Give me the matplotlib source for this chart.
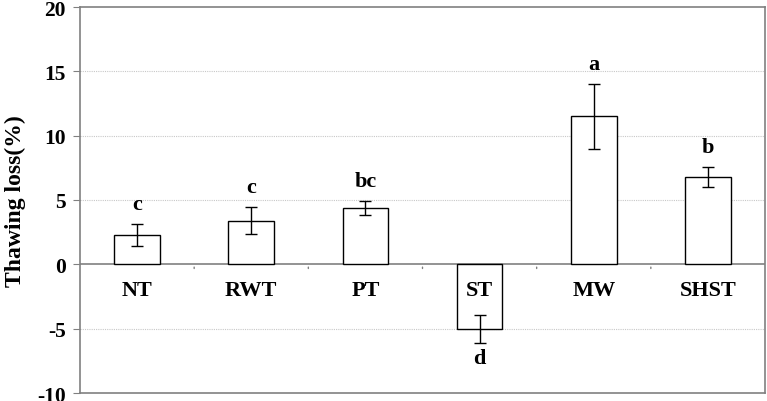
import matplotlib
matplotlib.use("Agg")
import matplotlib.pyplot as plt

categories = ["NT", "RWT", "PT", "ST", "MW", "SHST"]
values = [2.3, 3.4, 4.4, -5.0, 11.5, 6.8]
errors = [0.85, 1.05, 0.55, 1.1, 2.5, 0.8]
letters = ["c", "c", "bc", "d", "a", "b"]
yticks = [-10, -5, 0, 5, 10, 15, 20]

plt.rcParams['font.family'] = ['Liberation Serif', 'DejaVu Serif']
plt.rcParams['font.weight'] = 'bold'

fig = plt.figure(figsize=(7.67, 4.02), dpi=100)
ax = fig.add_axes([80/767, 8/402, 685/767, 386/402])

x = list(range(len(categories)))
ax.bar(x, values, width=0.4, color='white', edgecolor='black', linewidth=1.0, zorder=3)
ax.errorbar(x, values, yerr=errors, fmt='none', ecolor='black', elinewidth=1.0,
            capsize=4, capthick=1.0, zorder=4)

ax.set_xlim(-0.5, len(categories) - 0.5)
ax.set_ylim(-10, 20)
ax.set_yticks(yticks)
ax.set_yticklabels([str(t) for t in yticks], fontsize=15.5, fontweight='bold')
ax.set_xticks([])

for t in [15, 10, 5, -5]:
    ax.axhline(t, color='#c8c8c8', linestyle=(0, (1, 1)), linewidth=0.8, zorder=1)
ax.axhline(0, color='#808080', linewidth=1.2, zorder=2)

for b in [0.5, 1.5, 2.5, 3.5, 4.5]:
    ax.annotate('', xy=(b, 0), xytext=(0, -5), textcoords='offset points',
                arrowprops=dict(arrowstyle='-', color='#808080', lw=1.0))

for i, (cat, v, e, l) in enumerate(zip(categories, values, errors, letters)):
    ax.annotate(cat, xy=(i, 0), xytext=(0, -11), textcoords='offset points',
                ha='center', va='top', fontsize=16, fontweight='bold', zorder=5)
    if v >= 0:
        ax.annotate(l, xy=(i, v + e), xytext=(0, 7), textcoords='offset points',
                    ha='center', va='bottom', fontsize=16, fontweight='bold')
    else:
        ax.annotate(l, xy=(i, v - e), xytext=(0, -4), textcoords='offset points',
                    ha='center', va='top', fontsize=16, fontweight='bold')

for s in ax.spines.values():
    s.set_color('#808080')
    s.set_linewidth(1.2)
ax.tick_params(axis='y', direction='out', length=5, color='#808080', pad=5)

ax.set_ylabel("Thawing loss(%)", fontsize=17, fontweight='bold', labelpad=8)

fig.savefig("out.png", dpi=100)
